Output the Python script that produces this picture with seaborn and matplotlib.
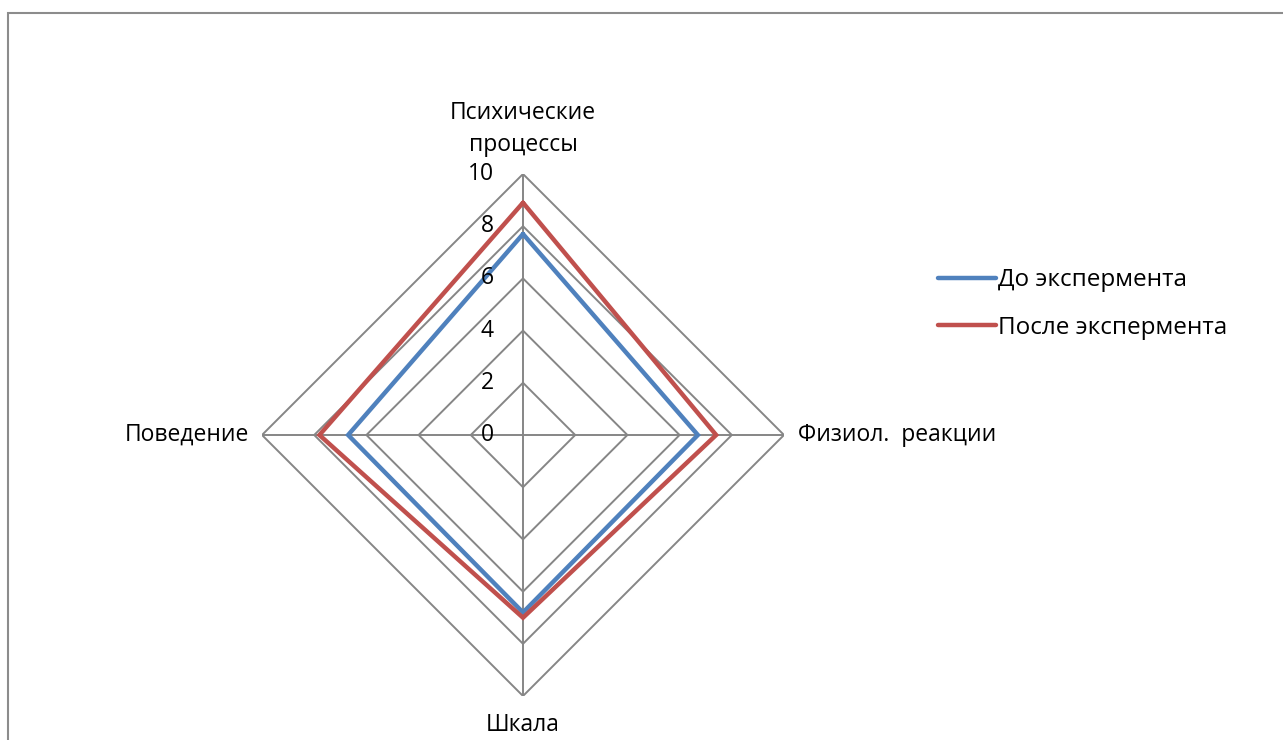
import numpy as np
import matplotlib.pyplot as plt
import seaborn as sns
from matplotlib.lines import Line2D

# data
categories = ['Психические\nпроцессы', 'Физиол.  реакции', 'Шкала', 'Поведение']
before = [7.7, 6.7, 6.8, 6.7]
after = [8.9, 7.4, 7.0, 7.8]
series_names = ['До экспермента', 'После экспермента']
r_ticks = [0, 2, 4, 6, 8, 10]

sns.set_style('white')
plt.rcParams['font.family'] = ['Open Sans', 'DejaVu Sans']
plt.rcParams['text.color'] = 'black'

blue = '#4F81BD'
red = '#C0504D'
grid_col = '#868686'
fs = 16.5

W, H = 1283, 740
fig = plt.figure(figsize=(W / 100, H / 100), dpi=100)

# outer chart-area frame (top and left edges visible)
fig.patches.append(plt.Rectangle((8 / W, -0.1), 1.2, 1.1 - 13 / H,
                                 transform=fig.transFigure, fill=False,
                                 edgecolor='#8c8c8c', linewidth=1.5))

cx, cy, rad = 523, 435, 261
ax = fig.add_axes([(cx - rad) / W, (H - cy - rad) / H, 2 * rad / W, 2 * rad / H],
                  projection='polar')
ax.set_theta_zero_location('N')
ax.set_theta_direction(-1)

n = len(categories)
angles = np.linspace(0, 2 * np.pi, n, endpoint=False)
ang_closed = np.append(angles, angles[0])

# polygonal grid instead of circles
ax.grid(False)
ax.spines['polar'].set_visible(False)
ax.set_xticks([])
ax.set_yticks([])
ax.set_ylim(0, 10)
for t in r_ticks[1:]:
    ax.plot(ang_closed, [t] * (n + 1), color=grid_col, lw=1.4, zorder=1)
for a in angles:
    ax.plot([a, a], [0, 10], color=grid_col, lw=1.4, zorder=1)

ax.plot(ang_closed, before + before[:1], color=blue, lw=3.2, zorder=3,
        solid_joinstyle='miter', label=series_names[0])
ax.plot(ang_closed, after + after[:1], color=red, lw=3.2, zorder=3,
        solid_joinstyle='miter', label=series_names[1])

# value labels along the top spoke
for t in r_ticks:
    ax.annotate(str(t), (0, t), xytext=(-21, 0), textcoords='offset points',
                ha='right', va='center', fontsize=fs, zorder=4)

# category labels
offsets = [((0, 12), 'center', 'bottom'), ((10, 0), 'left', 'center'),
           ((0, -12), 'center', 'top'), ((-9, 0), 'right', 'center')]
for a, lab, (off, ha, va) in zip(angles, categories, offsets):
    ax.annotate(lab, (a, 10), xytext=off, textcoords='offset points',
                ha=ha, va=va, fontsize=fs, linespacing=1.45, annotation_clip=False)

handles = [Line2D([], [], color=blue, lw=3.2), Line2D([], [], color=red, lw=3.2)]
fig.legend(handles, series_names, loc='center left',
           bbox_to_anchor=(928 / W, 1 - 304 / H), frameon=False, fontsize=17.5,
           handlelength=2.4, handletextpad=0.1, labelspacing=0.95,
           borderaxespad=0)

fig.savefig('out.png', dpi=100)
